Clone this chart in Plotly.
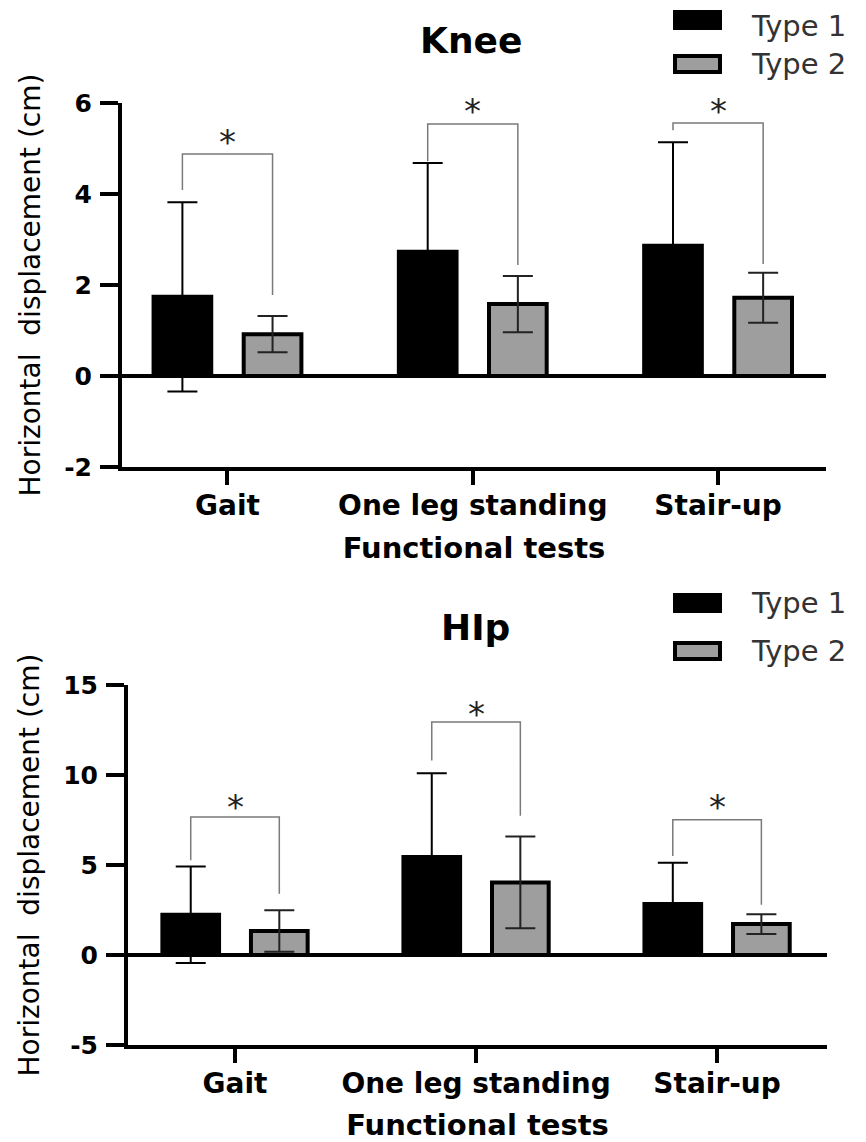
import plotly.graph_objects as go

# The page body adds an 8 px margin; the figure is sized and laid out so that
# page pixel p corresponds to figure pixel p - OFF.
OFF = 8
FW, FH = 866 - OFF, 1142 - OFF

categories = ["Gait", "One leg standing", "Stair-up"]
series_names = ["Type 1", "Type 2"]

# Knee
knee_type1 = [1.74, 2.73, 2.86]
knee_type1_sd = [2.08, 1.95, 2.28]
knee_type2 = [0.92, 1.58, 1.72]
knee_type2_sd = [0.40, 0.62, 0.55]
knee_bracket_top = [4.88, 5.54, 5.56]
knee_bracket_left_end = [4.09, 4.72, 5.40]
knee_bracket_right_end = [1.78, 2.44, 2.46]
knee_star_y = [5.27, 5.95, 5.95]

# Hip
hip_type1 = [2.23, 5.45, 2.83]
hip_type1_sd = [2.68, 4.65, 2.29]
hip_type2 = [1.33, 4.03, 1.72]
hip_type2_sd = [1.15, 2.55, 0.55]
hip_bracket_top = [7.67, 12.95, 7.52]
hip_bracket_left_end = [5.27, 10.8, 5.5]
hip_bracket_right_end = [3.4, 7.73, 2.79]
hip_star_y = [8.56, 13.7, 8.56]

knee_yticks = [-2, 0, 2, 4, 6]
hip_yticks = [-5, 0, 5, 10, 15]

BLACK = "#000000"
GRAY = "#9e9e9e"
ERR2 = "#222222"
BRACKET = "#7a7a7a"
FONT = "DejaVu Sans"

bargap = 0.265
bargroupgap = 0.36
offset = (1 - bargap) / 4

xpos = list(range(len(categories)))

fig = go.Figure()
annotations = []


def add_panel(xa, ya, t1, t1sd, t2, t2sd, btop, bl, br, stary):
    fig.add_trace(go.Bar(
        x=xpos, y=t1, name=series_names[0], xaxis=xa, yaxis=ya,
        marker=dict(color=BLACK, line=dict(color=BLACK, width=4)),
        error_y=dict(type="data", array=t1sd, color=BLACK, thickness=2, width=15),
        showlegend=False, hoverinfo="skip"))
    fig.add_trace(go.Bar(
        x=xpos, y=t2, name=series_names[1], xaxis=xa, yaxis=ya,
        marker=dict(color=GRAY, line=dict(color=BLACK, width=4)),
        error_y=dict(type="data", array=t2sd, color=ERR2, thickness=2, width=15),
        showlegend=False, hoverinfo="skip"))
    for i in xpos:
        x0, x1 = i - offset, i + offset
        fig.add_trace(go.Scatter(
            x=[x0, x0, x1, x1], y=[bl[i], btop[i], btop[i], br[i]],
            mode="lines", line=dict(color=BRACKET, width=1.5),
            xaxis=xa, yaxis=ya, showlegend=False, hoverinfo="skip",
            cliponaxis=False))
        annotations.append(dict(
            text="*", x=i, y=stary[i], xref=xa, yref=ya,
            xanchor="center", yanchor="middle", yshift=-6, showarrow=False,
            font=dict(family=FONT, size=34, color="#222222")))


add_panel("x", "y", knee_type1, knee_type1_sd, knee_type2, knee_type2_sd,
          knee_bracket_top, knee_bracket_left_end, knee_bracket_right_end, knee_star_y)
add_panel("x2", "y2", hip_type1, hip_type1_sd, hip_type2, hip_type2_sd,
          hip_bracket_top, hip_bracket_left_end, hip_bracket_right_end, hip_star_y)


def px_x(p):
    return (p - OFF) / FW


def px_y(p):
    return 1 - (p - OFF) / FH


def xaxis_style(domain, rng):
    return dict(
        domain=domain, range=rng, tickvals=xpos, ticktext=categories,
        showline=True, linewidth=4, linecolor=BLACK,
        ticks="outside", ticklen=14, tickwidth=4, tickcolor=BLACK,
        showgrid=False, zeroline=False, automargin=False,
        tickfont=dict(family=FONT, size=28, color=BLACK, weight="bold"),
        ticklabelstandoff=-4,
        title=dict(text="Functional tests", standoff=18,
                   font=dict(family=FONT, size=29, color=BLACK, weight="bold")),
        fixedrange=True,
    )


def yaxis_style(domain, rng, tickvals, anchor):
    return dict(
        domain=domain, range=rng, tickvals=tickvals,
        ticktext=[str(v) for v in tickvals], anchor=anchor,
        showline=True, linewidth=4, linecolor=BLACK,
        ticks="outside", ticklen=18, tickwidth=4, tickcolor=BLACK,
        showgrid=False, zeroline=True, zerolinewidth=4, zerolinecolor=BLACK,
        automargin=False,
        tickfont=dict(family=FONT, size=25, color=BLACK, weight="bold"),
        ticklabelstandoff=3,
        title=dict(text="Horizontal  displacement (cm)", standoff=16,
                   font=dict(family=FONT, size=28, color=BLACK)),
        fixedrange=True,
    )


fig.update_layout(
    width=FW, height=FH,
    margin=dict(l=0, r=0, t=0, b=0, autoexpand=False),
    paper_bgcolor="white", plot_bgcolor="white",
    barmode="group", bargap=bargap, bargroupgap=bargroupgap,
    xaxis=dict(anchor="y", **xaxis_style([px_x(122), px_x(826)], [-0.43, 2.44])),
    yaxis=yaxis_style([px_y(467), px_y(103)], [-2, 6], knee_yticks, "x"),
    xaxis2=dict(anchor="y2", **xaxis_style([px_x(128), px_x(827)], [-0.444, 2.456])),
    yaxis2=yaxis_style([px_y(1045), px_y(685)], [-5, 15], hip_yticks, "x2"),
)

shapes = []

# Panel titles
for text, cx, cy in [("Knee", 471, 41), ("HIp", 475, 627)]:
    annotations.append(dict(
        text=text, x=px_x(cx), y=px_y(cy), xref="paper", yref="paper",
        xanchor="center", yanchor="middle", showarrow=False,
        font=dict(family=FONT, size=36, color=BLACK, weight="bold")))

# Manual legends: (swatch centre y, text y, text anchor)
legend_rows = [
    [(20, 8, "top"), (64, 64, "middle")],
    [(603, 603, "middle"), (651, 651, "middle")],
]
for rows in legend_rows:
    for (yc, ty, anc), name, fill in zip(rows, series_names, [BLACK, GRAY]):
        shapes.append(dict(
            type="rect", xref="paper", yref="paper",
            x0=px_x(675), x1=px_x(720), y0=px_y(yc - 8), y1=px_y(yc + 8),
            fillcolor=fill, line=dict(color=BLACK, width=4)))
        annotations.append(dict(
            text=name, x=px_x(750), y=px_y(ty), xref="paper", yref="paper",
            xanchor="left", yanchor=anc, showarrow=False, borderpad=0,
            font=dict(family=FONT, size=29, color="#333333")))

fig.update_layout(shapes=shapes, annotations=annotations)

fig.write_html("out.html")
